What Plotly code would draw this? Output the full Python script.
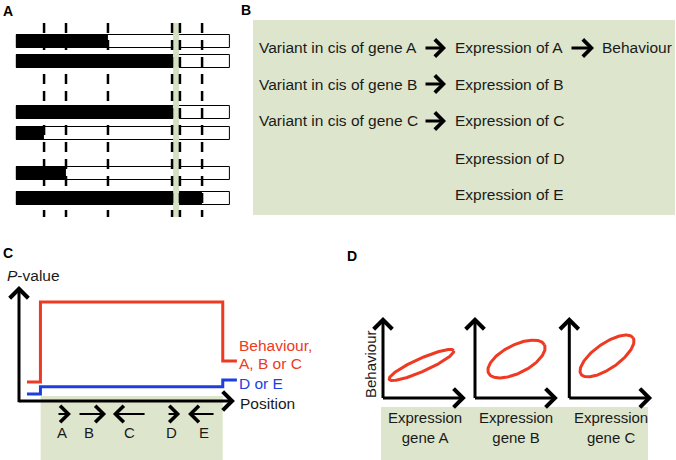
import numpy as np
import plotly.graph_objects as go

W, H = 676, 460
def PX(x): return x / W
def PY(y): return 1 - y / H

FONT = "Arial, Liberation Sans, sans-serif"
TXT = "#1a1a1a"
GREEN = "#dde6cc"
BAND = "#d6e0c2"
RED = "#ee3a22"
BLUE = "#1e3fe0"

# ---------------- Panel A data ----------------
a_fill = [0.427, 0.73, 0.73, 0.127, 0.23, 0.87]      # black (parental) fraction per chromosome
a_markers = [0.127, 0.23, 0.427, 0.728, 0.765, 0.869]  # dashed marker positions
a_band = [0.733, 0.761]                                 # highlighted interval
a_rows = [0.925, 1.925, 4.45, 5.525, 7.5, 8.775]        # row layout (y positions)

# ---------------- Panel B data ----------------
b_causes = ["Variant in cis of gene A", "Variant in cis of gene B", "Variant in cis of gene C"]
b_genes = ["Expression of A", "Expression of B", "Expression of C", "Expression of D", "Expression of E"]
b_outcome = "Behaviour"

# ---------------- Panel C data ----------------
c_step_x = [3.6, 9.7, 92.2, 98.6]
c_red_y = [1.65, 8.6, 3.48, 3.48]
c_blue_y = [0.61, 1.24, 1.83, 1.83]
c_genes = ["A", "B", "C", "D", "E"]
c_gene_start = [17.2, 26.7, 57.5, 67.0, 88.7]
c_gene_end = [23.5, 39.4, 42.5, 72.9, 76.5]
c_gene_label_x = [19.5, 31.7, 50.2, 68.8, 83.7]
c_region = [9.8, 92.2]

# ---------------- Panel D data ----------------
d_labels = ["Expression<br>gene A", "Expression<br>gene B", "Expression<br>gene C"]
d_cx = [0.428, 0.461, 0.419]
d_cy = [0.367, 0.433, 0.467]
d_semi_major = [0.392, 0.348, 0.353]
d_semi_minor = [0.072, 0.155, 0.139]
d_angle = [24, 27, 35]

fig = go.Figure()

# ---- Panel A traces ----
fig.add_trace(go.Bar(y=a_rows, x=[1] * len(a_rows), base=0, orientation="h", width=0.65,
                     marker=dict(color="white", line=dict(color="black", width=1)),
                     xaxis="x", yaxis="y", showlegend=False, hoverinfo="skip"))
fig.add_trace(go.Bar(y=a_rows, x=a_fill, base=0, orientation="h", width=0.65,
                     marker=dict(color="black", line=dict(color="black", width=1)),
                     xaxis="x", yaxis="y", showlegend=False, hoverinfo="skip"))
fig.add_trace(go.Scatter(x=[a_band[0], a_band[1], a_band[1], a_band[0], a_band[0]],
                         y=[0, 0, 9.7, 9.7, 0], fill="toself", fillcolor=BAND,
                         line=dict(width=0), mode="lines",
                         xaxis="x", yaxis="y", showlegend=False, hoverinfo="skip"))
mx, my = [], []
for m in a_markers:
    mx += [m, m, None]
    my += [0, 9.7, None]
fig.add_trace(go.Scatter(x=mx, y=my, mode="lines",
                         line=dict(color="black", width=2.5, dash="10px,7px"),
                         xaxis="x", yaxis="y", showlegend=False, hoverinfo="skip"))

# ---- Panel C traces ----
fig.add_trace(go.Scatter(x=[c_region[0], c_region[1], c_region[1], c_region[0], c_region[0]],
                         y=[0.43, 0.43, -5.2, -5.2, 0.43], fill="toself", fillcolor=GREEN,
                         line=dict(width=0), mode="lines",
                         xaxis="x2", yaxis="y2", showlegend=False, hoverinfo="skip"))
fig.add_trace(go.Scatter(x=c_step_x, y=c_red_y, mode="lines", line_shape="hv",
                         line=dict(color=RED, width=3),
                         xaxis="x2", yaxis="y2", showlegend=False, hoverinfo="skip"))
fig.add_trace(go.Scatter(x=c_step_x, y=c_blue_y, mode="lines", line_shape="hv",
                         line=dict(color=BLUE, width=3),
                         xaxis="x2", yaxis="y2", showlegend=False, hoverinfo="skip"))

# ---- Panel D traces ----
t = np.linspace(0, 2 * np.pi, 200)
for i in range(3):
    th = np.radians(d_angle[i])
    ex = d_cx[i] + d_semi_major[i] * np.cos(t) * np.cos(th) - d_semi_minor[i] * np.sin(t) * np.sin(th)
    ey = d_cy[i] + d_semi_major[i] * np.cos(t) * np.sin(th) + d_semi_minor[i] * np.sin(t) * np.cos(th)
    fig.add_trace(go.Scatter(x=ex, y=ey, mode="lines", line=dict(color=RED, width=3),
                             xaxis=f"x{i+3}", yaxis=f"y{i+3}", showlegend=False, hoverinfo="skip"))

ax_common = dict(visible=False, showgrid=False, zeroline=False, fixedrange=True)
layout_axes = {}
layout_axes["xaxis"] = dict(domain=[PX(14.9), PX(232.1)], range=[-0.01, 1.01], anchor="y", **ax_common)
layout_axes["yaxis"] = dict(domain=[PY(217), PY(23)], range=[9.7, 0], anchor="x", **ax_common)
layout_axes["xaxis2"] = dict(domain=[PX(19), PX(240)], range=[0, 100], anchor="y2", **ax_common)
layout_axes["yaxis2"] = dict(domain=[PY(460), PY(280)], range=[-5.13, 10.52], anchor="x2", **ax_common)
d_axis_x0 = [383, 475, 569.3]
for i in range(3):
    layout_axes[f"xaxis{i+3}"] = dict(domain=[PX(d_axis_x0[i]), PX(d_axis_x0[i] + 90)], range=[0, 1],
                                      anchor=f"y{i+3}", **ax_common)
    layout_axes[f"yaxis{i+3}"] = dict(domain=[PY(398), PY(308)], range=[0, 1],
                                      anchor=f"x{i+3}", **ax_common)

ann = []
shapes = []

def txt(x, y, s, size=15.5, color=TXT, xanchor="left", bold=False, **kw):
    d = dict(x=PX(x), y=PY(y), xref="paper", yref="paper", text=(f"<b>{s}</b>" if bold else s),
             showarrow=False, xanchor=xanchor, yanchor="middle",
             font=dict(family=FONT, size=size, color=color))
    d.update(kw)
    ann.append(d)

def arrow(xref, yref, x0, y0, x1, y1, width=3, size=1.0, head=4, color="black"):
    ann.append(dict(x=x1, y=y1, ax=x0, ay=y0, xref=xref, yref=yref, axref=xref, ayref=yref,
                    text="", showarrow=True, arrowhead=head, arrowwidth=width, arrowsize=size,
                    arrowcolor=color, standoff=0, startstandoff=0))

def paper_arrow(x0, x1, y, width=3, size=1.1, head=4):
    ann.append(dict(x=PX(x1), y=PY(y), ax=x0 - x1, ay=0, xref="paper", yref="paper",
                    axref="pixel", ayref="pixel", text="", showarrow=True, arrowhead=head,
                    arrowwidth=width, arrowsize=size, arrowcolor="black", standoff=0))

# Panel letters
txt(1, 11, "A", size=14, bold=True, color="black")
txt(239, 10, "B", size=14, bold=True, color="black")
txt(1, 253, "C", size=14, bold=True, color="black")
txt(345, 256, "D", size=14, bold=True, color="black")

# ---- Panel B ----
shapes.append(dict(type="rect", xref="paper", yref="paper", x0=PX(253), x1=PX(675), y0=PY(215), y1=PY(20),
                   fillcolor=GREEN, line=dict(width=0), layer="below"))
b_rows = [48, 84, 121, 158, 194]
for i, s in enumerate(b_causes):
    txt(257, b_rows[i], s)
    paper_arrow(424, 446, b_rows[i])
for i, s in enumerate(b_genes):
    txt(453, b_rows[i], s)
paper_arrow(570, 594, b_rows[0])
txt(600, b_rows[0], b_outcome)

# ---- Panel C ----
arrow("x2", "y2", 0, -0.25, 0, 10.0, width=3, size=1.2)
arrow("x2", "y2", -0.6, 0, 97.7, 0, width=3, size=1.2)
for i, g in enumerate(c_genes):
    arrow("x2", "y2", c_gene_start[i], -1.13, c_gene_end[i], -1.13, width=2, size=1.6)
    ann.append(dict(x=c_gene_label_x[i], y=-2.75, xref="x2", yref="y2", text=g, showarrow=False,
                    xanchor="center", yanchor="middle", font=dict(family=FONT, size=15, color=TXT)))
txt(5, 275, "<i>P</i>-value", size=15.5)
txt(237, 345, "Behaviour,", size=15.5, color=RED)
txt(237, 363, "A, B or C", size=15.5, color=RED)
txt(237, 383, "D or E", size=15.5, color=BLUE)
txt(238, 403, "Position", size=15.5)

# ---- Panel D ----
shapes.append(dict(type="rect", xref="paper", yref="paper", x0=PX(381), x1=PX(648), y0=PY(460), y1=PY(407),
                   fillcolor=GREEN, line=dict(width=0), layer="below"))
d_text_x = [425, 516, 611]
for i in range(3):
    xr, yr = f"x{i+3}", f"y{i+3}"
    arrow(xr, yr, 0, -0.017, 0, 0.9, width=3, size=1.2)
    arrow(xr, yr, -0.017, 0, 0.92, 0, width=3, size=1.2)
    ann.append(dict(x=PX(d_text_x[i]), y=PY(427), xref="paper", yref="paper", text=d_labels[i],
                    showarrow=False, xanchor="center", yanchor="middle", align="center",
                    font=dict(family=FONT, size=15, color=TXT)))
ann.append(dict(x=PX(370), y=PY(364), xref="paper", yref="paper", text="Behaviour", textangle=-90,
                showarrow=False, xanchor="center", yanchor="middle",
                font=dict(family=FONT, size=15, color=TXT)))

fig.update_layout(width=W, height=H, margin=dict(l=0, r=0, t=0, b=0),
                  paper_bgcolor="white", plot_bgcolor="rgba(0,0,0,0)",
                  barmode="overlay", bargap=0, showlegend=False,
                  annotations=ann, shapes=shapes, **layout_axes)

fig.write_html("out.html", config={"displayModeBar": False},
               post_script="document.body.style.margin='0';document.body.style.padding='0';")
